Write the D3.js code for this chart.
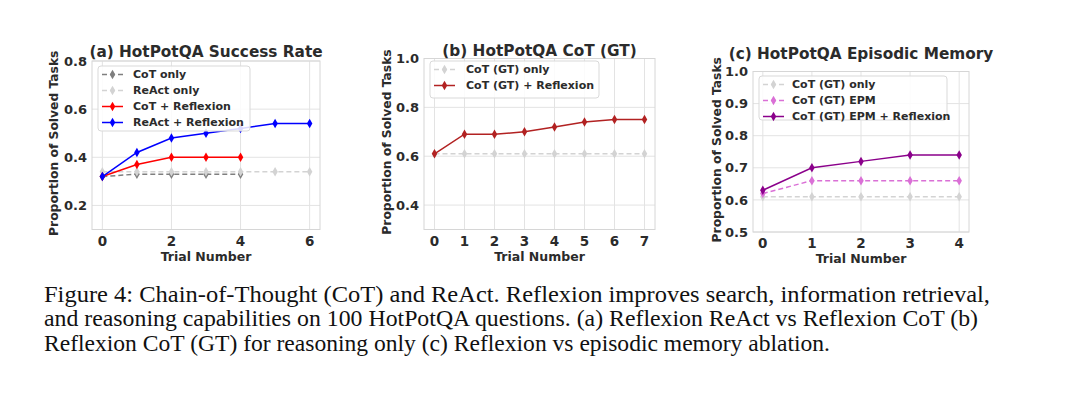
<!DOCTYPE html>
<html>
<head>
<meta charset="utf-8">
<script src="https://cdn.jsdelivr.net/npm/d3@7"></script>
<style>
  body { margin: 0; background: #fff; }
  svg { display: block; }
</style>
</head>
<body>
<svg id="fig" width="1080" height="394"></svg>
<script>
// panel (a) HotPotQA success rate
const trialsA = [0, 1, 2, 3, 4, 5, 6];
const cotOnly = [0.32, 0.33, 0.33, 0.33, 0.33];
const reactOnly = [0.34, 0.34, 0.34, 0.34, 0.34, 0.34, 0.34];
const cotReflexion = [0.32, 0.37, 0.40, 0.40, 0.40];
const reactReflexion = [0.32, 0.42, 0.48, 0.50, 0.52, 0.54, 0.54];
const xTicksA = [0, 2, 4, 6];
const yTicksA = [0.2, 0.4, 0.6, 0.8];

// panel (b) CoT (GT)
const trialsB = [0, 1, 2, 3, 4, 5, 6, 7];
const cotGtOnlyB = [0.61, 0.61, 0.61, 0.61, 0.61, 0.61, 0.61, 0.61];
const cotGtReflexion = [0.61, 0.69, 0.69, 0.70, 0.72, 0.74, 0.75, 0.75];
const xTicksB = [0, 1, 2, 3, 4, 5, 6, 7];
const yTicksB = [0.4, 0.6, 0.8, 1.0];

// panel (c) episodic memory
const trialsC = [0, 1, 2, 3, 4];
const cotGtOnlyC = [0.61, 0.61, 0.61, 0.61, 0.61];
const cotGtEpm = [0.62, 0.66, 0.66, 0.66, 0.66];
const cotGtEpmReflexion = [0.63, 0.70, 0.72, 0.74, 0.74];
const xTicksC = [0, 1, 2, 3, 4];
const yTicksC = [0.5, 0.6, 0.7, 0.8, 0.9, 1.0];

const captionLines = [
  "Figure 4: Chain-of-Thought (CoT) and ReAct. Reflexion improves search, information retrieval,",
  "and reasoning capabilities on 100 HotPotQA questions. (a) Reflexion ReAct vs Reflexion CoT (b)",
  "Reflexion CoT (GT) for reasoning only (c) Reflexion vs episodic memory ablation."
];

const svg = d3.select("#fig");
const textColor = "#2b2b2b";
const gridColor = "#e3e3e3";
const font = "'DejaVu Sans', sans-serif";

function panel(cfg) {
  const x = d3.scaleLinear().domain(cfg.xDomain).range([cfg.left, cfg.right]);
  const y = d3.scaleLinear().domain(cfg.yDomain).range([cfg.bottom, cfg.top]);
  const g = svg.append("g").attr("font-family", font).attr("fill", textColor);

  // grid
  g.append("g").selectAll("line").data(cfg.xTicks).join("line")
    .attr("x1", d => x(d)).attr("x2", d => x(d))
    .attr("y1", cfg.top).attr("y2", cfg.bottom)
    .attr("stroke", gridColor).attr("stroke-width", 1);
  g.append("g").selectAll("line").data(cfg.yTicks).join("line")
    .attr("x1", cfg.left).attr("x2", cfg.right)
    .attr("y1", d => y(d)).attr("y2", d => y(d))
    .attr("stroke", gridColor).attr("stroke-width", 1);

  // frame
  g.append("rect")
    .attr("x", cfg.left).attr("y", cfg.top)
    .attr("width", cfg.right - cfg.left).attr("height", cfg.bottom - cfg.top)
    .attr("fill", "none").attr("stroke", "#d6d6d6").attr("stroke-width", 1);

  // tick labels
  g.append("g").selectAll("text").data(cfg.xTicks).join("text")
    .attr("x", d => x(d)).attr("y", cfg.bottom + 16)
    .attr("text-anchor", "middle").attr("font-size", 13.5).attr("font-weight", "bold")
    .text(d => d);
  g.append("g").selectAll("text").data(cfg.yTicks).join("text")
    .attr("x", cfg.left - 5).attr("y", d => y(d)).attr("dy", "0.36em")
    .attr("text-anchor", "end").attr("font-size", 13).attr("font-weight", "bold")
    .text(d => d3.format(".1f")(d));

  // axis labels + title
  g.append("text")
    .attr("x", (cfg.left + cfg.right) / 2).attr("y", cfg.bottom + 31)
    .attr("text-anchor", "middle").attr("font-size", 12.5).attr("font-weight", "bold")
    .text("Trial Number");
  g.append("text")
    .attr("transform", `translate(${cfg.ylabelX},${(cfg.top + cfg.bottom) / 2 + cfg.ylabelShift}) rotate(-90)`)
    .attr("text-anchor", "middle").attr("font-size", 12.3).attr("font-weight", "bold")
    .text("Proportion of Solved Tasks");
  g.append("text")
    .attr("x", (cfg.left + cfg.right) / 2).attr("y", cfg.titleY)
    .attr("text-anchor", "middle").attr("font-size", 15.3).attr("font-weight", "bold")
    .text(cfg.title);

  // series
  const line = d3.line().x(d => x(d[0])).y(d => y(d[1]));
  cfg.series.forEach(s => {
    const pts = s.values.map((v, i) => [cfg.trials[i], v]);
    g.append("path").datum(pts)
      .attr("d", line).attr("fill", "none")
      .attr("stroke", s.color).attr("stroke-width", 1.5)
      .attr("stroke-dasharray", s.dashed ? "5,3" : null);
    g.append("g").selectAll("path").data(pts).join("path")
      .attr("transform", d => `translate(${x(d[0])},${y(d[1])})`)
      .attr("d", d3.symbol(d3.symbolDiamond, 26))
      .attr("fill", s.color);
  });

  // legend
  const lg = cfg.legend;
  g.append("rect")
    .attr("x", lg.x).attr("y", lg.y).attr("width", lg.w).attr("height", lg.h)
    .attr("rx", 3).attr("fill", "#fff").attr("fill-opacity", 0.85)
    .attr("stroke", "#d9d9d9");
  cfg.series.forEach((s, i) => {
    const yy = lg.y + 8.5 + i * 16;
    g.append("line")
      .attr("x1", lg.x + 4).attr("x2", lg.x + 25).attr("y1", yy).attr("y2", yy)
      .attr("stroke", s.color).attr("stroke-width", 1.5)
      .attr("stroke-dasharray", s.dashed ? "5,3" : null);
    g.append("path")
      .attr("transform", `translate(${lg.x + 14.5},${yy})`)
      .attr("d", d3.symbol(d3.symbolDiamond, 26))
      .attr("fill", s.color);
    g.append("text")
      .attr("x", lg.x + lg.textDx).attr("y", yy).attr("dy", "0.35em")
      .attr("font-size", 11).attr("font-weight", "bold")
      .text(s.name);
  });
}

panel({
  title: "(a) HotPotQA Success Rate",
  left: 92, right: 320, top: 61, bottom: 229.5, titleY: 57,
  ylabelX: 58, ylabelShift: -2,
  xDomain: [-0.3, 6.3], yDomain: [0.1, 0.8],
  xTicks: xTicksA, yTicks: yTicksA, trials: trialsA,
  legend: { x: 98, y: 66, w: 152, h: 65, textDx: 35 },
  series: [
    { name: "CoT only", values: cotOnly, color: "#7f7f7f", dashed: true },
    { name: "ReAct only", values: reactOnly, color: "#d3d3d3", dashed: true },
    { name: "CoT + Reflexion", values: cotReflexion, color: "#ff0000", dashed: false },
    { name: "ReAct + Reflexion", values: reactReflexion, color: "#0000ff", dashed: false }
  ]
});

panel({
  title: "(b) HotPotQA CoT (GT)",
  left: 424, right: 655, top: 58.5, bottom: 229.5, titleY: 55.5,
  ylabelX: 391, ylabelShift: -2,
  xDomain: [-0.35, 7.35], yDomain: [0.3, 1.0],
  xTicks: xTicksB, yTicks: yTicksB, trials: trialsB,
  legend: { x: 430, y: 61, w: 169, h: 37, textDx: 36 },
  series: [
    { name: "CoT (GT) only", values: cotGtOnlyB, color: "#d3d3d3", dashed: true },
    { name: "CoT (GT) + Reflexion", values: cotGtReflexion, color: "#b22222", dashed: false }
  ]
});

panel({
  title: "(c) HotPotQA Episodic Memory",
  left: 753, right: 969, top: 71.5, bottom: 232, titleY: 59,
  ylabelX: 721, ylabelShift: -2,
  xDomain: [-0.2, 4.2], yDomain: [0.5, 1.0],
  xTicks: xTicksC, yTicks: yTicksC, trials: trialsC,
  legend: { x: 759, y: 76, w: 188, h: 44, textDx: 33 },
  series: [
    { name: "CoT (GT) only", values: cotGtOnlyC, color: "#d3d3d3", dashed: true },
    { name: "CoT (GT) EPM", values: cotGtEpm, color: "#da70d6", dashed: true },
    { name: "CoT (GT) EPM + Reflexion", values: cotGtEpmReflexion, color: "#8b008b", dashed: false }
  ]
});

// caption
const capWidths = [946, 934, 786];
svg.append("g").selectAll("text").data(captionLines).join("text")
  .attr("x", 44).attr("y", (d, i) => 302 + i * 24.3)
  .style("font-family", "'Liberation Serif', 'Times New Roman', Tinos, serif")
  .attr("font-size", 23).attr("fill", "#111")
  .attr("textLength", (d, i) => capWidths[i]).attr("lengthAdjust", "spacingAndGlyphs")
  .text(d => d);
</script>
</body>
</html>
